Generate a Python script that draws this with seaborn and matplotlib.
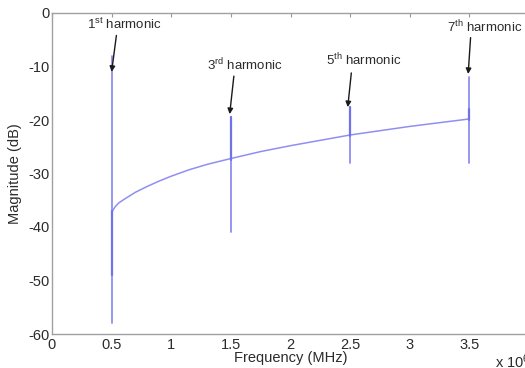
import matplotlib
matplotlib.use("Agg")
import matplotlib.pyplot as plt
import seaborn as sns
import pandas as pd

# ---- data ----
curve_freq = [0.5, 0.51, 0.53, 0.56, 0.6, 0.7, 0.8, 0.9, 1.0, 1.15, 1.3, 1.5,
              1.75, 2.0, 2.25, 2.5, 2.75, 3.0, 3.25, 3.5]
curve_db = [-37.5, -36.9, -36.2, -35.5, -34.9, -33.5, -32.4, -31.4, -30.5, -29.3,
            -28.3, -27.2, -25.9, -24.8, -23.8, -22.8, -22.0, -21.2, -20.5, -19.8]

harm_freq = [0.5, 1.5, 2.5, 3.5]
spike_top = [-8.0, -19.5, -17.5, -12.0]
spike_bottom = [-58.0, -41.0, -28.0, -28.0]
core_top = [-37.0, -19.5, -17.5, -18.0]
core_bottom = [-49.0, -27.5, -23.0, -20.0]

harm_labels = ["1$^{\\rm st}$ harmonic", "3$^{\\rm rd}$ harmonic",
               "5$^{\\rm th}$ harmonic", "7$^{\\rm th}$ harmonic"]

x_ticks = [0, 0.5, 1, 1.5, 2, 2.5, 3, 3.5, 4]
x_ticklabels = ["0", "0.5", "1", "1.5", "2", "2.5", "3", "3.5", "4"]
y_ticks = [-60, -50, -40, -30, -20, -10, 0]
y_ticklabels = ["-60", "-50", "-40", "-30", "-20", "-10", "0"]

# ---- style ----
sns.set_theme(style="white")
plt.rcParams["font.family"] = ["Liberation Sans", "DejaVu Sans"]
plt.rcParams["mathtext.fontset"] = "custom"
plt.rcParams["mathtext.rm"] = "Liberation Sans"
plt.rcParams["mathtext.it"] = "Liberation Sans:italic"
plt.rcParams["mathtext.bf"] = "Liberation Sans:bold"

W, H = 525, 368
fig = plt.figure(figsize=(W / 100, H / 100), dpi=100)
fig.patch.set_facecolor("white")
L, R, T, B = 52, 529, 13, 334
ax = fig.add_axes([L / W, 1 - B / H, (R - L) / W, (B - T) / H])

line_col = "#8f8ff2"
core_col = "#7272e8"
txt_col = "#2b2b2b"

curve_df = pd.DataFrame({"freq": curve_freq, "db": curve_db})
sns.lineplot(data=curve_df, x="freq", y="db", ax=ax, color=line_col, lw=1.1,
             estimator=None, sort=False)

rows = []
for i, f in enumerate(harm_freq):
    rows.append({"freq": f, "db": spike_bottom[i], "seg": i})
    rows.append({"freq": f, "db": spike_top[i], "seg": i})
spike_df = pd.DataFrame(rows)
sns.lineplot(data=spike_df, x="freq", y="db", units="seg", ax=ax,
             color=line_col, lw=1.3, estimator=None, sort=False)

rows = []
for i, f in enumerate(harm_freq):
    rows.append({"freq": f, "db": core_bottom[i], "seg": i})
    rows.append({"freq": f, "db": core_top[i], "seg": i})
core_df = pd.DataFrame(rows)
sns.lineplot(data=core_df, x="freq", y="db", units="seg", ax=ax,
             color=core_col, lw=1.6, estimator=None, sort=False)

# ---- annotations ----
text_pos = [(0.61, -2.2), (1.62, -9.7), (2.61, -8.8), (3.63, -2.6)]
arrow_tail = [(0.54, -4.2), (1.525, -11.8), (2.51, -11.2), (3.51, -4.6)]
arrow_head = [(0.50, -11.0), (1.49, -18.9), (2.48, -17.6), (3.49, -11.4)]
for lab, tp, at, ah in zip(harm_labels, text_pos, arrow_tail, arrow_head):
    ax.text(tp[0], tp[1], lab, ha="center", va="center", fontsize=9.5,
            color=txt_col)
    ax.annotate("", xy=ah, xytext=at,
                arrowprops=dict(arrowstyle="-|>", color="#1a1a1a", lw=1.0,
                                mutation_scale=8, shrinkA=0, shrinkB=0))

# ---- axes ----
ax.set_xlim(0, 4)
ax.set_ylim(-60, 0)
ax.set_xticks(x_ticks)
ax.set_xticklabels(x_ticklabels)
ax.set_yticks(y_ticks)
ax.set_yticklabels(y_ticklabels)
ax.tick_params(axis="both", direction="in", length=3, width=0.8,
               color="#999999", labelsize=10.5, labelcolor=txt_col,
               top=True, right=True, pad=2)
ax.tick_params(axis="x", pad=3)
for s in ax.spines.values():
    s.set_visible(True)
    s.set_color("#a0a0a0")
    s.set_linewidth(1.0)

ax.set_xlabel("Frequency (MHz)", fontsize=10.5, color=txt_col)
ax.set_ylabel("Magnitude (dB)", fontsize=10.5, color=txt_col)
ax.xaxis.set_label_coords(0.5, -0.052)
ax.yaxis.set_label_coords(-0.062, 0.5)

fig.text(495 / W, 1 - 362 / H, "x 10$^{6}$", fontsize=10.5, color=txt_col,
         ha="left", va="center")

fig.savefig("out.png", dpi=100, facecolor="white")
